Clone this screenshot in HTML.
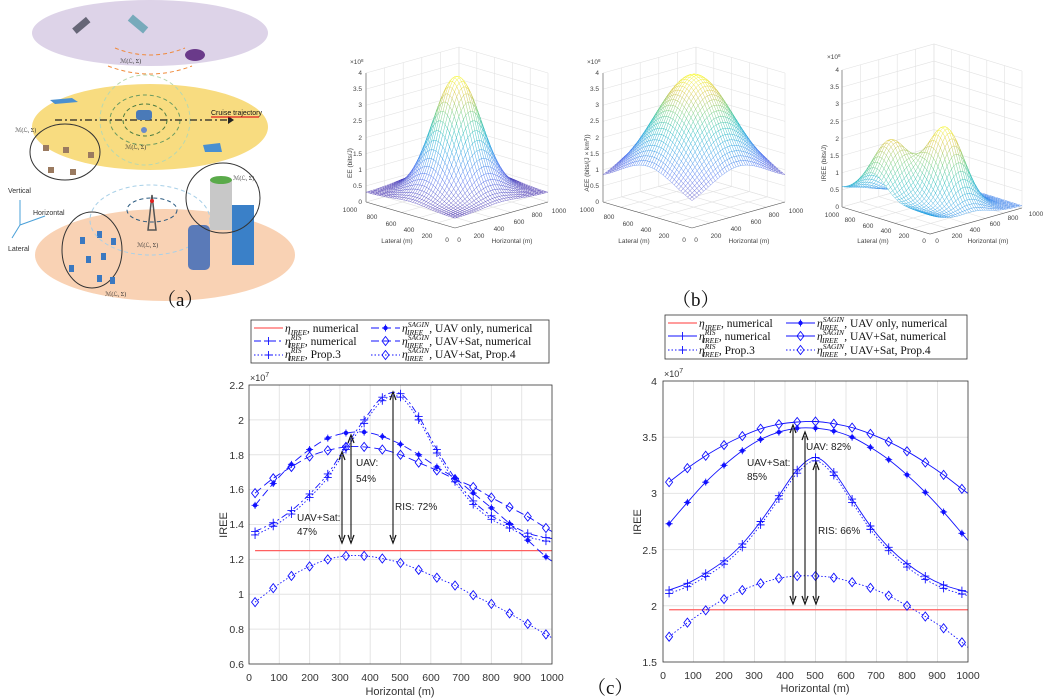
<!DOCTYPE html>
<html><head><meta charset="utf-8"><style>
html,body{margin:0;padding:0;background:#fff;}
svg{display:block;font-family:"Liberation Sans",sans-serif;}
.tk{font-size:10.5px;fill:#333;}
.tk3{font-size:6.5px;fill:#444;}
.lg{font-family:"Liberation Serif",serif;font-size:11.5px;fill:#111;}
.cap{font-family:"Liberation Serif","Noto Serif CJK SC",serif;font-size:19px;fill:#111;}
</style></head><body>
<svg id="s" width="1054" height="698" viewBox="0 0 1054 698" xmlns="http://www.w3.org/2000/svg">
<g id="pa">
<ellipse cx="150" cy="33" rx="118" ry="33" fill="#ddd3e8"/>
<ellipse cx="150" cy="127" rx="118" ry="43" fill="#f8dc80"/>
<ellipse cx="165" cy="255" rx="130" ry="46" fill="#f9d2b4"/>
<path d="M115 48 Q150 62 185 48" stroke="#f08a3c" stroke-width="1" fill="none" stroke-dasharray="4,3"/>
<path d="M108 66 Q150 82 192 66" stroke="#f08a3c" stroke-width="1" fill="none" stroke-dasharray="4,3"/>
<circle cx="145" cy="120" r="45" stroke="#b8d8b0" fill="none" stroke-dasharray="4,3"/>
<ellipse cx="145" cy="120" rx="35" ry="25" stroke="#6a9a60" fill="none" stroke-dasharray="4,3"/>
<ellipse cx="145" cy="120" rx="22" ry="16" stroke="#4a7a40" fill="none" stroke-dasharray="4,3"/>
<line x1="55" y1="120" x2="228" y2="120" stroke="#222" stroke-width="1.2" stroke-dasharray="7,3,2,3"/>
<path d="M228 116 L234 120 L228 124 Z" fill="#222"/>
<text x="211" y="115" font-size="7" fill="#111">Cruise trajectory</text>
<line x1="211" y1="117" x2="259" y2="117" stroke="#e02020" stroke-width="1.2"/>
<rect x="136" y="110" width="16" height="10" rx="3" fill="#4a7ab8"/>
<circle cx="144" cy="130" r="3" fill="#6a8ac8"/>
<rect x="72" y="22" width="18" height="7" fill="#667" transform="rotate(-40 81 25)"/>
<rect x="128" y="20" width="20" height="8" fill="#7ab" transform="rotate(40 138 24)"/>
<ellipse cx="195" cy="55" rx="10" ry="6" fill="#6a3a8a"/>
<path d="M50 100 L72 98 L78 102 L55 104Z" fill="#4a90d0"/>
<path d="M203 145 L220 143 L222 152 L205 152Z" fill="#4a90d0"/>
<ellipse cx="65" cy="152" rx="35" ry="28" fill="none" stroke="#333" stroke-width="1"/>
<g fill="#9a7a60"><rect x="43" y="145" width="6" height="6"/><rect x="63" y="147" width="6" height="6"/><rect x="88" y="152" width="6" height="6"/><rect x="48" y="167" width="6" height="6"/><rect x="70" y="169" width="6" height="6"/></g>
<ellipse cx="92" cy="250" rx="30" ry="38" fill="none" stroke="#333" stroke-width="1"/>
<g fill="#3a78c0"><rect x="80" y="237" width="5" height="7"/><rect x="97" y="231" width="5" height="7"/><rect x="111" y="238" width="5" height="7"/><rect x="86" y="256" width="5" height="7"/><rect x="101" y="253" width="5" height="7"/><rect x="69" y="265" width="5" height="7"/><rect x="97" y="275" width="5" height="7"/><rect x="110" y="277" width="5" height="7"/></g>
<path d="M148 230 L152 195 L156 230 Z" fill="none" stroke="#555" stroke-width="1.5"/>
<circle cx="152" cy="201" r="2" fill="#e02020"/>
<ellipse cx="152" cy="210" rx="25" ry="12" fill="none" stroke="#2a5a80" stroke-dasharray="4,3"/>
<ellipse cx="150" cy="220" rx="60" ry="35" fill="none" stroke="#a8d0e8" stroke-dasharray="4,3"/>
<rect x="188" y="225" width="22" height="45" rx="5" fill="#5a7ab8"/>
<rect x="210" y="180" width="22" height="50" fill="#c8c8c8"/>
<ellipse cx="221" cy="180" rx="11" ry="4" fill="#5aaa4a"/>
<rect x="232" y="205" width="22" height="60" fill="#3a80c8"/>
<ellipse cx="223" cy="198" rx="37" ry="35" fill="none" stroke="#333" stroke-width="1"/>
<line x1="20" y1="225" x2="20" y2="200" stroke="#4aa0d8"/><line x1="20" y1="225" x2="45" y2="216" stroke="#4aa0d8"/><line x1="20" y1="225" x2="12" y2="238" stroke="#4aa0d8"/>
<text x="8" y="193" font-size="7" fill="#333">Vertical</text>
<text x="33" y="215" font-size="7" fill="#333">Horizontal</text>
<text x="8" y="251" font-size="7" fill="#333">Lateral</text>
<g font-family="Liberation Serif,serif" font-size="6" fill="#333">
<text x="120" y="63">ℳ(ℒ, Σ)</text><text x="15" y="132">ℳ(ℒ, Σ)</text><text x="125" y="149">ℳ(ℒ, Σ)</text>
<text x="233" y="180">ℳ(ℒ, Σ)</text><text x="137" y="247">ℳ(ℒ, Σ)</text><text x="105" y="296">ℳ(ℒ, Σ)</text></g>
</g>
<text class="cap" x="157" y="306">（a）</text>
<text class="cap" x="672" y="306">（b）</text>
<text class="cap" x="587" y="694">（c）</text>

<g id="p3d"></g>
<g class="tk3">
<g text-anchor="end"><text x="362" y="204">0</text><text x="362" y="188">0.5</text><text x="362" y="172">1</text><text x="362" y="156">1.5</text><text x="362" y="140">2</text><text x="362" y="123">2.5</text><text x="362" y="107">3</text><text x="362" y="91">3.5</text><text x="362" y="75">4</text></g>
<text x="350" y="64">×10<tspan dy="-2" font-size="4.5">8</tspan></text>
<text x="352" y="163" transform="rotate(-90 352 163)" text-anchor="middle">EE (bits/J)</text>
<g text-anchor="middle"><text x="350" y="212">1000</text><text x="372" y="219">800</text><text x="391" y="226">600</text><text x="409" y="232">400</text><text x="427" y="238">200</text><text x="447" y="242">0</text>
<text x="459" y="242">0</text><text x="479" y="238">200</text><text x="499" y="231">400</text><text x="519" y="224">600</text><text x="537" y="217">800</text><text x="559" y="213">1000</text></g>
<text x="397" y="243" text-anchor="middle">Lateral (m)</text><text x="512" y="243" text-anchor="middle">Horizontal (m)</text>

<g text-anchor="end"><text x="599" y="204">0</text><text x="599" y="188">0.5</text><text x="599" y="172">1</text><text x="599" y="156">1.5</text><text x="599" y="140">2</text><text x="599" y="123">2.5</text><text x="599" y="107">3</text><text x="599" y="91">3.5</text><text x="599" y="75">4</text></g>
<text x="587" y="64">×10<tspan dy="-2" font-size="4.5">8</tspan></text>
<text x="589" y="163" transform="rotate(-90 589 163)" text-anchor="middle">AEE (bits/(J × km<tspan dy="-2" font-size="4.5">3</tspan><tspan dy="2">))</tspan></text>
<g text-anchor="middle"><text x="587" y="212">1000</text><text x="609" y="219">800</text><text x="628" y="226">600</text><text x="646" y="232">400</text><text x="664" y="238">200</text><text x="684" y="242">0</text>
<text x="696" y="242">0</text><text x="716" y="238">200</text><text x="736" y="231">400</text><text x="756" y="224">600</text><text x="774" y="217">800</text><text x="796" y="213">1000</text></g>
<text x="634" y="243" text-anchor="middle">Lateral (m)</text><text x="749" y="243" text-anchor="middle">Horizontal (m)</text>

<g text-anchor="end"><text x="839" y="209">0</text><text x="839" y="192">0.5</text><text x="839" y="175">1</text><text x="839" y="158">1.5</text><text x="839" y="141">2</text><text x="839" y="124">2.5</text><text x="839" y="106">3</text><text x="839" y="89">3.5</text><text x="839" y="72">4</text></g>
<text x="827" y="59">×10<tspan dy="-2" font-size="4.5">8</tspan></text>
<text x="826" y="163" transform="rotate(-90 826 163)" text-anchor="middle">IREE (bits/J)</text>
<g text-anchor="middle"><text x="832" y="217">1000</text><text x="850" y="222">800</text><text x="868" y="228">600</text><text x="886" y="233">400</text><text x="904" y="238">200</text><text x="924" y="243">0</text>
<text x="937" y="243">0</text><text x="957" y="238">200</text><text x="975" y="232">400</text><text x="995" y="226">600</text><text x="1013" y="220">800</text><text x="1036" y="216">1000</text></g>
<text x="873" y="243" text-anchor="middle">Lateral (m)</text><text x="988" y="243" text-anchor="middle">Horizontal (m)</text>
</g>

<g id="c2d"></g>
<g class="tk">
<g text-anchor="middle"><text x="249" y="681">0</text><text x="279" y="681">100</text><text x="310" y="681">200</text><text x="340" y="681">300</text><text x="370" y="681">400</text><text x="400" y="681">500</text><text x="431" y="681">600</text><text x="461" y="681">700</text><text x="491" y="681">800</text><text x="522" y="681">900</text><text x="552" y="681">1000</text></g>
<g text-anchor="end"><text x="244" y="668">0.6</text><text x="244" y="633">0.8</text><text x="244" y="598">1</text><text x="244" y="563">1.2</text><text x="244" y="528">1.4</text><text x="244" y="493">1.6</text><text x="244" y="459">1.8</text><text x="244" y="424">2</text><text x="244" y="389">2.2</text></g>
<text x="250" y="381" font-size="9">×10<tspan dy="-4" font-size="7">7</tspan></text>
<text x="400" y="695" text-anchor="middle" font-size="11">Horizontal (m)</text>
<text x="227" y="525" transform="rotate(-90 227 525)" text-anchor="middle" font-size="11">IREE</text>

<g text-anchor="middle"><text x="663" y="679">0</text><text x="693" y="679">100</text><text x="724" y="679">200</text><text x="754" y="679">300</text><text x="785" y="679">400</text><text x="815" y="679">500</text><text x="846" y="679">600</text><text x="876" y="679">700</text><text x="907" y="679">800</text><text x="937" y="679">900</text><text x="968" y="679">1000</text></g>
<g text-anchor="end"><text x="657" y="666">1.5</text><text x="657" y="610">2</text><text x="657" y="554">2.5</text><text x="657" y="497">3</text><text x="657" y="441">3.5</text><text x="657" y="385">4</text></g>
<text x="664" y="377" font-size="9">×10<tspan dy="-4" font-size="7">7</tspan></text>
<text x="815" y="692" text-anchor="middle" font-size="11">Horizontal (m)</text>
<text x="641" y="522" transform="rotate(-90 641 522)" text-anchor="middle" font-size="11">IREE</text>
</g>
<g font-size="10" fill="#222">
<text x="356" y="466">UAV:</text><text x="356" y="482">54%</text>
<text x="297" y="521">UAV+Sat:</text><text x="297" y="535">47%</text>
<text x="395" y="510">RIS: 72%</text>
<text x="806" y="450">UAV: 82%</text>
<text x="747" y="466">UAV+Sat:</text><text x="747" y="480">85%</text>
<text x="818" y="534">RIS: 66%</text>
</g>
<rect x="251" y="320" width="298" height="43" fill="#fff" stroke="#333" stroke-width="0.8"/>
<rect x="665" y="315" width="302" height="44" fill="#fff" stroke="#333" stroke-width="0.8"/>
<g id="lgs"></g>
<g class="lg">
<text x="285" y="332"><tspan font-style="italic">η</tspan><tspan font-style="italic" font-size="7.5" dy="3">IREE</tspan><tspan dy="-3">, numerical</tspan></text>
<text x="285" y="345"><tspan font-style="italic">η</tspan><tspan font-style="italic" font-size="7.5" dy="-5">RIS</tspan><tspan font-style="italic" font-size="7.5" dx="-13" dy="8">IREE</tspan><tspan dy="-3">, numerical</tspan></text>
<text x="285" y="358"><tspan font-style="italic">η</tspan><tspan font-style="italic" font-size="7.5" dy="-5">RIS</tspan><tspan font-style="italic" font-size="7.5" dx="-13" dy="8">IREE</tspan><tspan dy="-3">, Prop.3</tspan></text>
<text x="402" y="332"><tspan font-style="italic">η</tspan><tspan font-style="italic" font-size="7.5" dy="-5">SAGIN</tspan><tspan font-style="italic" font-size="7.5" dx="-22" dy="8">IREE</tspan><tspan dy="-3" dx="6">, UAV only, numerical</tspan></text>
<text x="402" y="345"><tspan font-style="italic">η</tspan><tspan font-style="italic" font-size="7.5" dy="-5">SAGIN</tspan><tspan font-style="italic" font-size="7.5" dx="-22" dy="8">IREE</tspan><tspan dy="-3" dx="6">, UAV+Sat, numerical</tspan></text>
<text x="402" y="358"><tspan font-style="italic">η</tspan><tspan font-style="italic" font-size="7.5" dy="-5">SAGIN</tspan><tspan font-style="italic" font-size="7.5" dx="-22" dy="8">IREE</tspan><tspan dy="-3" dx="6">, UAV+Sat, Prop.4</tspan></text>

<text x="699" y="327"><tspan font-style="italic">η</tspan><tspan font-style="italic" font-size="7.5" dy="3">IREE</tspan><tspan dy="-3">, numerical</tspan></text>
<text x="699" y="340"><tspan font-style="italic">η</tspan><tspan font-style="italic" font-size="7.5" dy="-5">RIS</tspan><tspan font-style="italic" font-size="7.5" dx="-13" dy="8">IREE</tspan><tspan dy="-3">, numerical</tspan></text>
<text x="699" y="354"><tspan font-style="italic">η</tspan><tspan font-style="italic" font-size="7.5" dy="-5">RIS</tspan><tspan font-style="italic" font-size="7.5" dx="-13" dy="8">IREE</tspan><tspan dy="-3">, Prop.3</tspan></text>
<text x="817" y="327"><tspan font-style="italic">η</tspan><tspan font-style="italic" font-size="7.5" dy="-5">SAGIN</tspan><tspan font-style="italic" font-size="7.5" dx="-22" dy="8">IREE</tspan><tspan dy="-3" dx="6">, UAV only, numerical</tspan></text>
<text x="817" y="340"><tspan font-style="italic">η</tspan><tspan font-style="italic" font-size="7.5" dy="-5">SAGIN</tspan><tspan font-style="italic" font-size="7.5" dx="-22" dy="8">IREE</tspan><tspan dy="-3" dx="6">, UAV+Sat, numerical</tspan></text>
<text x="817" y="354"><tspan font-style="italic">η</tspan><tspan font-style="italic" font-size="7.5" dy="-5">SAGIN</tspan><tspan font-style="italic" font-size="7.5" dx="-22" dy="8">IREE</tspan><tspan dy="-3" dx="6">, UAV+Sat, Prop.4</tspan></text>
</g>
</svg>
<script>
(function(){
var NS="http://www.w3.org/2000/svg";
function el(p,t,a){var e=document.createElementNS(NS,t);for(var k in a)e.setAttribute(k,a[k]);p.appendChild(e);return e;}
var P3=document.getElementById('p3d');
var stops=[[0,62,38,168],[0.2,60,100,240],[0.4,25,155,225],[0.55,20,185,180],[0.7,100,200,110],[0.85,210,190,50],[1,249,251,14]];
function cmap(t){t=Math.max(0,Math.min(1,t));for(var i=1;i<stops.length;i++){if(t<=stops[i][0]){var a=stops[i-1],b=stops[i],f=(t-a[0])/(b[0]-a[0]);return 'rgb('+[1,2,3].map(function(j){return Math.round(a[j]+(b[j]-a[j])*f)}).join(',')+')';}}return 'rgb(249,251,14)';}
function G(dh,dl,s){return Math.exp(-(dh*dh+dl*dl)/(2*s*s));}
var plots=[
 {ox:455,oy:228,hx:[93,-26],lx:[-89,-26],zs:32.25,f:function(h,l){return 0.3+3.6*G(h-500,l-500,190);},c:function(z){return (z-0.3)/3.6;}},
 {ox:692,oy:228,hx:[93,-26],lx:[-89,-26],zs:32.25,f:function(h,l){return 0.6+3.35*G(h-500,l-500,310);},c:function(z){return (z-0.7)/3.25;}},
 {ox:930,oy:234,hx:[92,-26],lx:[-88,-27],zs:34.25,f:function(h,l){return 0.05+1.75*G(h-200,l-650,150)+2.3*G(h-500,l-350,150)+0.5*Math.exp(-h/300);},c:function(z){return 0.25+z/2.5*0.75;}}
];
plots.forEach(function(p){
 function pr(h,l,z){return [p.ox+p.hx[0]*h/1000+p.lx[0]*l/1000,p.oy+p.hx[1]*h/1000+p.lx[1]*l/1000-z*p.zs];}
 var g=el(P3,'g',{});
 var A=pr(0,1000,0),C=pr(1000,0,0),O=pr(0,0,0);
 var gs={stroke:'#e2e2e2','stroke-width':0.6,fill:'none'};
 for(var k=0;k<=8;k++){var z=k*0.5;var a=pr(0,1000,z),b=pr(1000,1000,z),c=pr(1000,0,z);el(g,'polyline',Object.assign({points:a+' '+b+' '+c},gs));}
 for(var k=0;k<=5;k++){var v=k*200;
  var a=pr(v,1000,0),b=pr(v,1000,4);el(g,'line',Object.assign({x1:a[0],y1:a[1],x2:b[0],y2:b[1]},gs));
  a=pr(1000,v,0);b=pr(1000,v,4);el(g,'line',Object.assign({x1:a[0],y1:a[1],x2:b[0],y2:b[1]},gs));
  a=pr(v,0,0);b=pr(v,1000,0);el(g,'line',Object.assign({x1:a[0],y1:a[1],x2:b[0],y2:b[1]},gs));
  a=pr(0,v,0);b=pr(1000,v,0);el(g,'line',Object.assign({x1:a[0],y1:a[1],x2:b[0],y2:b[1]},gs));}
 var ax={stroke:'#555','stroke-width':0.6};
 var t=pr(0,1000,4);el(g,'line',Object.assign({x1:A[0],y1:A[1],x2:t[0],y2:t[1]},ax));
 el(g,'polyline',{points:A+' '+O+' '+C,stroke:'#555','stroke-width':0.6,fill:'none'});
 var N=40,quads=[];
 for(var i=0;i<N;i++)for(var j=0;j<N;j++){var h0=i*1000/N,h1=(i+1)*1000/N,l0=j*1000/N,l1=(j+1)*1000/N;quads.push([h0,h1,l0,l1]);}
 quads.sort(function(a,b){return (b[0]+b[2])-(a[0]+a[2]);});
 var m=el(g,'g',{'stroke-width':0.5,'stroke-linejoin':'round'});
 quads.forEach(function(q){var zs=[p.f(q[0],q[2]),p.f(q[1],q[2]),p.f(q[1],q[3]),p.f(q[0],q[3])];
  var pts=[pr(q[0],q[2],zs[0]),pr(q[1],q[2],zs[1]),pr(q[1],q[3],zs[2]),pr(q[0],q[3],zs[3])];
  var zm=(zs[0]+zs[1]+zs[2]+zs[3])/4;
  el(m,'polygon',{points:pts.map(function(v){return v[0].toFixed(1)+','+v[1].toFixed(1)}).join(' '),fill:'#fff',stroke:cmap(p.c(zm)),'stroke-opacity':0.6});});
});
var C2=document.getElementById('c2d');
var H=[];for(var i=0;i<17;i++)H.push(20+60*i);H.push(1000);
function chart(cfg){
 var g=el(C2,'g',{});
 function X(h){return cfg.x0+(cfg.x1-cfg.x0)*h/1000;}function Y(v){return cfg.y1-(cfg.y1-cfg.y0)*(v-cfg.vmin)/(cfg.vmax-cfg.vmin);}
 el(g,'rect',{x:cfg.x0,y:cfg.y0,width:cfg.x1-cfg.x0,height:cfg.y1-cfg.y0,fill:'#fff'});
 for(var k=1;k<10;k++)el(g,'line',{x1:X(k*100),x2:X(k*100),y1:cfg.y0,y2:cfg.y1,stroke:'#e4e4e4','stroke-width':1});
 cfg.yt.forEach(function(v){el(g,'line',{x1:cfg.x0,x2:cfg.x1,y1:Y(v),y2:Y(v),stroke:'#e4e4e4','stroke-width':1});});
 el(g,'line',{x1:X(20),x2:X(1000),y1:Y(cfg.red),y2:Y(cfg.red),stroke:'#ff6060','stroke-width':1.3});
 cfg.series.forEach(function(s){
  var pts=H.map(function(h,i){return [X(h),Y(s.v[i])];});
  var d='M'+pts[0][0]+','+pts[0][1];
  for(var i=0;i<pts.length-1;i++){var p0=pts[Math.max(0,i-1)],p1=pts[i],p2=pts[i+1],p3=pts[Math.min(pts.length-1,i+2)];
   d+=' C'+(p1[0]+(p2[0]-p0[0])/6).toFixed(1)+','+(p1[1]+(p2[1]-p0[1])/6).toFixed(1)+' '+(p2[0]-(p3[0]-p1[0])/6).toFixed(1)+','+(p2[1]-(p3[1]-p1[1])/6).toFixed(1)+' '+p2[0].toFixed(1)+','+p2[1].toFixed(1);}
  var a={d:d,fill:'none',stroke:'#1010ff','stroke-width':0.9};if(s.dash)a['stroke-dasharray']=s.dash;el(g,'path',a);
  for(var i=0;i<17;i++)marker(g,s.m,pts[i][0],pts[i][1]);
 });
 el(g,'rect',{x:cfg.x0,y:cfg.y0,width:cfg.x1-cfg.x0,height:cfg.y1-cfg.y0,fill:'none',stroke:'#333','stroke-width':0.8});
 cfg.arrows.forEach(function(a){dbl(g,a[0],a[1],a[2]);});
}
function marker(g,m,x,y){var c={stroke:'#1010ff','stroke-width':0.9,fill:'none'};
 if(m=='d')el(g,'polygon',Object.assign({points:x+','+(y-4.5)+' '+(x+3.5)+','+y+' '+x+','+(y+4.5)+' '+(x-3.5)+','+y},c));
 else if(m=='+'){el(g,'path',Object.assign({d:'M'+(x-4)+','+y+'h8M'+x+','+(y-4)+'v8'},c));}
 else if(m=='*'){el(g,'circle',{cx:x,cy:y,r:2.2,fill:'#1010ff'});el(g,'path',Object.assign({d:'M'+(x-3.5)+','+y+'h7M'+x+','+(y-3.5)+'v7'},c));}}
function dbl(g,x,y1,y2){el(g,'line',{x1:x,x2:x,y1:y1+4,y2:y2-4,stroke:'#111','stroke-width':1.1});
 el(g,'path',{d:'M'+(x-3)+','+(y1+8)+'L'+x+','+y1+'L'+(x+3)+','+(y1+8),fill:'none',stroke:'#111','stroke-width':1.2});
 el(g,'path',{d:'M'+(x-3)+','+(y2-8)+'L'+x+','+y2+'L'+(x+3)+','+(y2-8),fill:'none',stroke:'#111','stroke-width':1.2});}
var ris1=[1.36,1.41,1.48,1.575,1.69,1.85,2.0,2.13,2.15,2.02,1.83,1.665,1.535,1.45,1.40,1.35,1.325,1.32];
chart({x0:249,x1:552,y0:385,y1:664,vmin:0.6,vmax:2.2,yt:[0.8,1,1.2,1.4,1.6,1.8,2],red:1.25,
 series:[
 {m:'*',dash:'8,4',v:[1.51,1.635,1.745,1.83,1.895,1.925,1.93,1.905,1.86,1.80,1.73,1.665,1.58,1.495,1.405,1.31,1.215,1.19]},
 {m:'d',dash:'8,4',v:[1.58,1.665,1.73,1.79,1.825,1.845,1.845,1.83,1.80,1.755,1.71,1.66,1.615,1.555,1.50,1.445,1.38,1.36]},
 {m:'+',dash:'7,3,2,3',v:ris1},
 {m:'+',dash:'1.5,2',v:ris1.map(function(v){return v-0.02;})},
 {m:'d',dash:'1.5,2',v:[0.955,1.035,1.105,1.16,1.20,1.22,1.22,1.205,1.18,1.14,1.095,1.05,0.995,0.945,0.89,0.83,0.77,0.75]}],
 arrows:[[342,452,543],[351,435,543],[393,392,543]]});
var ris2=[2.14,2.20,2.29,2.40,2.55,2.75,2.98,3.21,3.32,3.19,2.95,2.71,2.52,2.375,2.265,2.185,2.135,2.12];
chart({x0:663,x1:968,y0:381,y1:662,vmin:1.5,vmax:4,yt:[2,2.5,3,3.5],red:1.965,
 series:[
 {m:'*',v:[2.73,2.92,3.10,3.25,3.38,3.48,3.545,3.58,3.58,3.555,3.50,3.41,3.30,3.165,3.01,2.835,2.645,2.58]},
 {m:'d',v:[3.10,3.225,3.335,3.43,3.51,3.575,3.615,3.635,3.64,3.62,3.585,3.53,3.46,3.375,3.275,3.165,3.04,3.0]},
 {m:'+',v:ris2},
 {m:'+',dash:'1.5,2',v:ris2.map(function(v){return v-0.03;})},
 {m:'d',dash:'1.5,2',v:[1.725,1.85,1.96,2.06,2.14,2.20,2.245,2.265,2.265,2.25,2.21,2.16,2.09,2.00,1.905,1.80,1.675,1.63]}],
 arrows:[[793,425,604],[805,432,604],[816,462,604]]});
var L=document.getElementById('lgs');
function samp(x,y,dash,m,col){var a={x1:x,x2:x+29,y1:y,y2:y,stroke:col||'#1010ff','stroke-width':col?1.3:0.9};if(dash)a['stroke-dasharray']=dash;el(L,'line',a);if(m)marker(L,m,x+14.5,y);}
samp(254,328,null,null,'#ff6060');samp(254,341,'7,3,2,3','+');samp(254,355,'1.5,2','+');
samp(371,328,'8,4','*');samp(371,341,'8,4','d');samp(371,355,'1.5,2','d');
samp(668,323,null,null,'#ff6060');samp(668,336,null,'+');samp(668,350,'1.5,2','+');
samp(786,323,null,'*');samp(786,336,null,'d');samp(786,350,'1.5,2','d');
})();
</script>
</body></html>
